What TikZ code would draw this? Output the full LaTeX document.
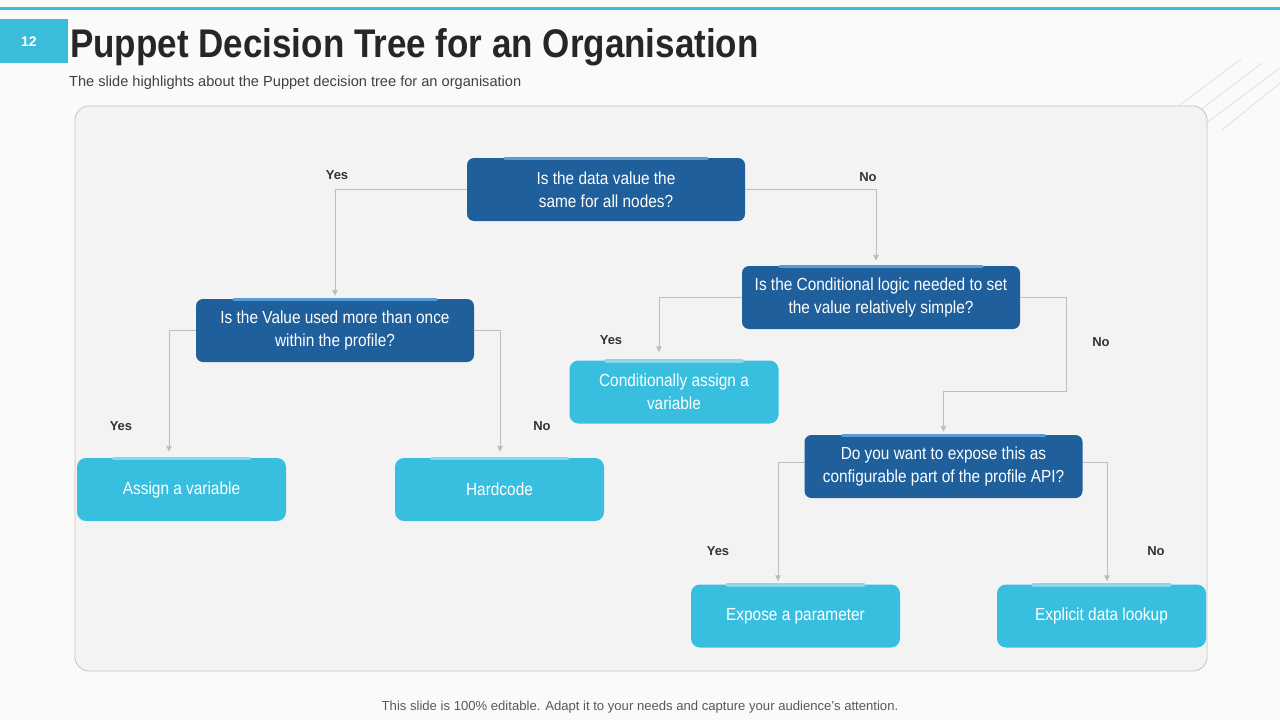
\documentclass[tikz,border=0pt]{standalone}
\usepackage{fontspec}
\setmainfont{Liberation Sans}
\newfontfamily\nar[FakeStretch=0.88]{Liberation Sans}
\newfontfamily\tnar[FakeStretch=0.875]{Liberation Sans}
\usetikzlibrary{arrows.meta}
\definecolor{bgc}{HTML}{FAFAF8}
\definecolor{panelc}{HTML}{F3F3F3}
\definecolor{panelb}{HTML}{C4C4C4}
\definecolor{cyanc}{HTML}{3BBCD9}
\definecolor{darkb}{HTML}{1F5F9C}
\definecolor{darkacc}{HTML}{5B9BD5}
\definecolor{lightb}{HTML}{38BFDF}
\definecolor{lightacc}{HTML}{8AD6EA}
\definecolor{connc}{HTML}{BDBDBD}
\definecolor{lblc}{HTML}{333333}
\definecolor{titlec}{HTML}{262626}
\tikzset{
  qbox/.style={fill=darkb, rounded corners=7pt, minimum width=278pt, minimum height=63pt, text=white, align=center, inner sep=0pt, font=\nar\fontsize{17.5}{23}\selectfont},
  abox/.style={fill=lightb, rounded corners=9pt, minimum width=209pt, minimum height=63pt, text=white, align=center, inner sep=0pt, font=\nar\fontsize{17.5}{23}\selectfont},
  dacc/.style={draw=darkacc, line width=3.5pt, line cap=round},
  lacc/.style={draw=lightacc, line width=3.5pt, line cap=round},
  conn/.style={draw=connc, line width=0.9pt, -{Triangle[width=5.5pt,length=6pt]}},
  lbl/.style={text=lblc, font=\bfseries\fontsize{13}{15}\selectfont, inner sep=0pt},
  deco/.style={draw=black!12, line width=0.8pt}
}
\begin{document}
\begin{tikzpicture}[x=1pt,y=-1pt]
\useasboundingbox (0,0) rectangle (1280,720);
\fill[bgc] (0,0) rectangle (1280,720);
% top line and number box
\fill[cyanc] (0,6.5) rectangle (1280,9.5);
\fill[cyanc] (0,19) rectangle (68,63);
\node[text=white, font=\bfseries\fontsize{14}{16}\selectfont] (num) at (29,42) {12};
\node[anchor=base west, text=titlec, font=\tnar\bfseries\fontsize{40}{44}\selectfont, inner sep=0pt] (title) at (70,57) {Puppet Decision Tree for an Organisation};
\node[anchor=base west, text=black!75, font=\fontsize{14.6}{16}\selectfont, inner sep=0pt] (sub) at (69,86) {The slide highlights about the Puppet decision tree for an organisation};
% decorative lines
\draw[deco] (1241,59) -- (1180,105);
\draw[deco] (1262,63) -- (1178,127);
\draw[deco] (1280,68) -- (1197,130);
\draw[deco] (1280,83) -- (1222,130);
% panel
\draw[fill=panelc, draw=panelb, line width=0.8pt, rounded corners=14pt] (75,106) rectangle (1207,671);
% question nodes
\node[qbox] (A) at (606,189.5) {Is the data value the\\same for all nodes?};
\node[qbox] (B) at (335,330.5) {Is the Value used more than once\\within the profile?};
\node[qbox] (C) at (881,297.5) {Is the Conditional logic needed to set\\the value relatively simple?};
\node[qbox] (D) at (943.5,466.5) {Do you want to expose this as\\configurable part of the profile API?};
% answer nodes
\node[abox] (E) at (181.5,489.5) {Assign a variable};
\node[abox] (F) at (499.5,489.5) {Hardcode};
\node[abox] (G) at (674,392) {Conditionally assign a\\variable};
\node[abox] (H) at (795.5,616) {Expose a parameter};
\node[abox] (I) at (1101.5,616) {Explicit data lookup};
% accent bars
\foreach \n in {A,B,C,D} {\draw[dacc] ([xshift=-101pt,yshift=-0.5pt]\n.north) -- ([xshift=101pt,yshift=-0.5pt]\n.north);}
\foreach \n in {E,F,G,H,I} {\draw[lacc] ([xshift=-68pt,yshift=-0.5pt]\n.north) -- ([xshift=68pt,yshift=-0.5pt]\n.north);}
% connectors
\coordinate (cD) at (1066,391);
\draw[conn] (A.west) -| ([yshift=3pt]B.north);
\draw[conn] (A.east) -| ([xshift=-5pt,yshift=5pt]C.north);
\draw[conn] (B.west) -| ([xshift=-12.5pt,yshift=6pt]E.north);
\draw[conn] (B.east) -| ([xshift=0.5pt,yshift=6pt]F.north);
\draw[conn] (C.west) -| ([xshift=-15pt,yshift=8pt]G.north);
\draw[conn] (C.east) -| (cD) -| ([yshift=3pt]D.north);
\draw[conn] ([yshift=4pt]D.west) -| ([xshift=-17.5pt,yshift=3pt]H.north);
\draw[conn] ([yshift=4pt]D.east) -| ([xshift=5.5pt,yshift=3pt]I.north);
% labels
\node[lbl] (l1) at (337,175) {Yes};
\node[lbl] (l2) at (868,177) {No};
\node[lbl] (l3) at (121,426) {Yes};
\node[lbl] (l4) at (542,426) {No};
\node[lbl] (l5) at (611,340) {Yes};
\node[lbl] (l6) at (1101,342) {No};
\node[lbl] (l7) at (718,551) {Yes};
\node[lbl] (l8) at (1156,551) {No};
% footer
\node[text=black!65, font=\fontsize{13.1}{15}\selectfont] (foot) at (640,707) {This slide is 100\% editable. Adapt it to your needs and capture your audience's attention.};
\end{tikzpicture}
\end{document}
